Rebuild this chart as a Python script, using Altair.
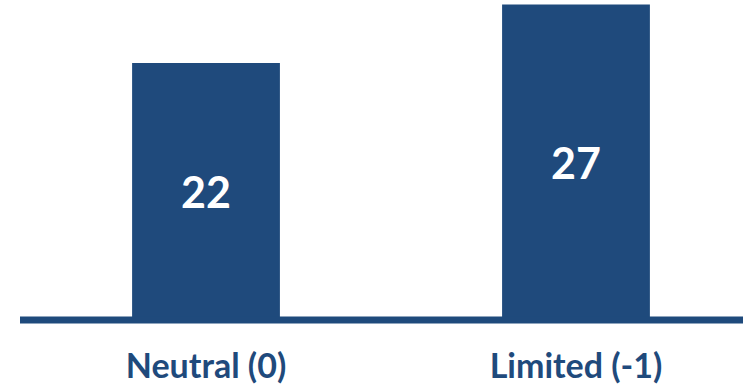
import altair as alt
import pandas as pd

categories = ["Neutral (0)", "Limited (-1)"]
values = [22, 27]

BLUE = "#1F4A7C"

df = pd.DataFrame({"category": categories, "value": values})

x = alt.X(
    "category:N",
    sort=categories,
    scale=alt.Scale(range=[20, 762], paddingInner=0.6005, paddingOuter=0.303),
    axis=alt.Axis(
        title=None,
        domain=False,
        ticks=False,
        labelAngle=0,
        labelFont="Lato",
        labelFontWeight="bold",
        labelFontSize=34,
        labelColor=BLUE,
        labelBaseline="alphabetic",
        labelPadding=57,
    ),
)
yscale = alt.Scale(domain=[0, 27.39], nice=False, zero=True)

base = alt.Chart(df)

bars = base.mark_bar(color=BLUE).encode(
    x=x,
    y=alt.Y("value:Q", scale=yscale, axis=None),
)

labels = base.transform_calculate(half="datum.value / 2").mark_text(
    font="Lato", fontWeight="bold", fontSize=43, color="white",
    baseline="alphabetic", dy=17,
).encode(
    x=x,
    y=alt.Y("half:Q", scale=yscale, axis=None),
    text=alt.Text("value:Q"),
)

rule = alt.Chart(pd.DataFrame({"z": [0]})).mark_rule(
    color=BLUE, strokeWidth=7
).encode(
    x=alt.value(20),
    x2=alt.value(743),
    y=alt.Y("z:Q", scale=yscale, axis=None),
)

chart = alt.layer(bars, labels, rule).properties(
    width=743,
    height=320,
    autosize=alt.AutoSizeParams(type="none"),
    padding={"left": 0, "top": 0, "right": 0, "bottom": 69},
    background="white",
).configure_view(stroke=None)

chart.save("out.html", embed_options={"renderer": "svg", "actions": False})
